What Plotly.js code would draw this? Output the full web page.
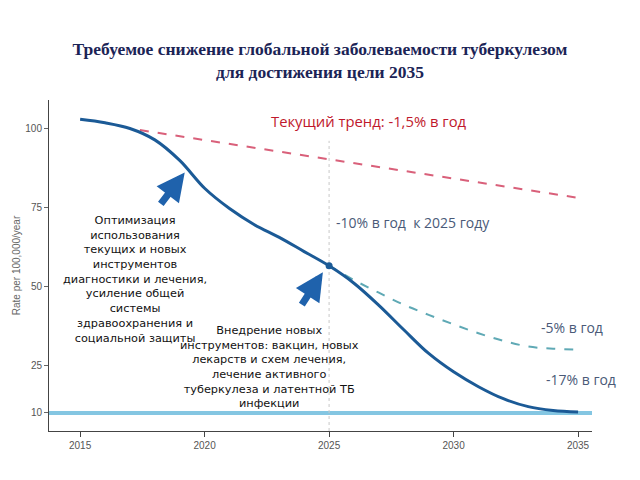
<!DOCTYPE html>
<html><head><meta charset="utf-8">
<script src="https://cdn.plot.ly/plotly-3.0.1.min.js"></script>
<style>html,body{margin:0;padding:0;background:#fff}#chart{width:640px;height:480px}</style>
</head><body><div id="chart"></div>
<script>
const years = [2015,2016,2017,2018,2019,2020,2021,2022,2023,2024,2025,2026,2027,2028,2029,2030,2031,2032,2033,2034,2035];
const rateMain = [102.8,101.7,99.9,96.3,89.8,81,74.6,69.5,65.5,61,56.5,51,44,36.3,28.8,23,18.3,14.5,12,10.8,10.3];
const yearsAlt = [2025,2026,2027,2028,2029,2030,2031,2032,2033,2034,2035];
const rateAlt = [56.5,52,48,44.2,41,38,35.2,32.8,31,30.3,30];
const yearsTrend = [2017.4,2034.9];
const rateTrend = [99.4,78.1];
const targetRate = 10;
const milestoneYear = 2025;
const milestoneRate = 56.5;
const xTicks = [2015,2020,2025,2030,2035];
const yTicks = [10,25,50,75,100];

const traces = [
  {x:[2013.75,2035.56], y:[targetRate,targetRate], mode:'lines', line:{color:'#84c6e2', width:4}, hoverinfo:'skip'},
  {x:[milestoneYear,milestoneYear], y:[4.3,96], mode:'lines', line:{color:'#c8c8c8', width:1, dash:'dot'}, hoverinfo:'skip'},
  {x:yearsTrend, y:rateTrend, mode:'lines', line:{color:'#d9607a', width:2, dash:'dash'}},
  {x:yearsAlt, y:rateAlt, mode:'lines', line:{color:'#5fa9b5', width:2, dash:'dash', shape:'spline'}},
  {x:years, y:rateMain, mode:'lines', line:{color:'#1b5a96', width:3, shape:'spline'}},
  {x:[milestoneYear], y:[milestoneRate], mode:'markers', marker:{color:'#1b5a96', size:7}}
];

const blk = {family:'DejaVu Sans, Verdana, sans-serif', size:11.3, color:'#111'};
const note = {family:'Open Sans, Noto Sans, sans-serif', size:14, color:'#4a5a78'};

const layout = {
  width:640, height:480, showlegend:false,
  paper_bgcolor:'#fff', plot_bgcolor:'#fff',
  margin:{l:49, r:48, t:100, b:49},
  title:{text:'<b>Требуемое снижение глобальной заболеваемости туберкулезом<br>для достижения цели 2035</b>',
    font:{family:'Liberation Serif, Times New Roman, serif', size:17.5, color:'#1b2456'},
    x:0.5, xanchor:'center', y:0.885, yanchor:'top'},
  xaxis:{range:[2013.75,2035.56], tickvals:xTicks, ticks:'outside', ticklen:5, tickcolor:'#444',
    showline:true, linecolor:'#444', linewidth:1, showgrid:false, zeroline:false,
    tickfont:{family:'Liberation Sans Narrow, Arial, sans-serif', size:10, color:'#555'}},
  yaxis:{range:[4.3,108.9], tickvals:yTicks, ticks:'outside', ticklen:4, tickcolor:'#666',
    showline:true, linecolor:'#444', linewidth:1, showgrid:false, zeroline:false,
    tickfont:{family:'Liberation Sans Narrow, Arial, sans-serif', size:10, color:'#555'},
    title:{text:'Rate per 100,000/year', font:{family:'Liberation Sans Narrow, Arial, sans-serif', size:10, color:'#666'}, standoff:2}},
  annotations:[
    {xref:'x', yref:'y', x:2022.6, y:102.2, text:'Текущий тренд: -1,5% в год', showarrow:false, xanchor:'left',
      font:{family:'Open Sans, Noto Sans, sans-serif', size:14.8, color:'#c0182c'}},
    {xref:'x', yref:'y', x:2025.2, y:70.2, text:'-10% в год  к 2025 году', showarrow:false, xanchor:'left', font:note},
    {xref:'x', yref:'y', x:2033.45, y:37, text:'-5% в год', showarrow:false, xanchor:'left', font:note},
    {xref:'x', yref:'y', x:2033.65, y:20.5, text:'-17% в год', showarrow:false, xanchor:'left', font:note},
    {xref:'x', yref:'y', x:2017.2, y:52.1, text:'Оптимизация<br>использования<br>текущих и новых<br>инструментов<br>диагностики и лечения,<br>усиление общей<br>системы<br>здравоохранения и<br>социальной защиты',
      showarrow:false, align:'center', font:blk},
    {xref:'x', yref:'y', x:2022.6, y:24.6, text:'Внедрение новых<br>инструментов: вакцин, новых<br>лекарств и схем лечения,<br>лечение активного<br>туберкулеза и латентной ТБ<br>инфекции',
      showarrow:false, align:'center', font:blk},
    {xref:'x', yref:'y', x:2019.2, y:86, ax:-25, ay:33, text:'', showarrow:true,
      arrowhead:2, arrowsize:0.8, arrowwidth:7, arrowcolor:'#1f62ac'},
    {xref:'x', yref:'y', x:2024.75, y:54.5, ax:-22, ay:34, text:'', showarrow:true,
      arrowhead:2, arrowsize:0.8, arrowwidth:7, arrowcolor:'#1f62ac'}
  ]
};
Plotly.newPlot('chart', traces, layout, {staticPlot:true, displayModeBar:false});
</script></body></html>
